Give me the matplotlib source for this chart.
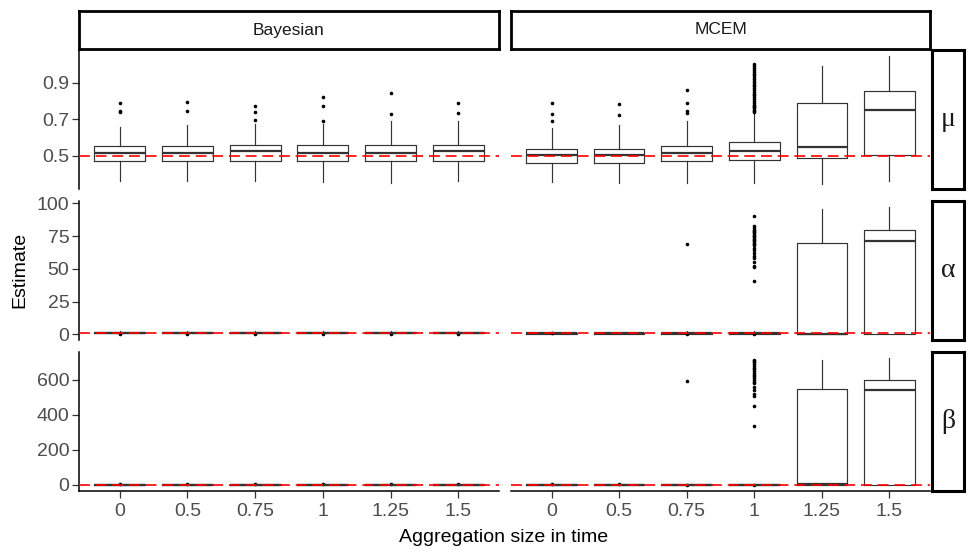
import matplotlib
matplotlib.use("Agg")
import matplotlib.pyplot as plt

plt.rcParams['font.family'] = ['Liberation Sans', 'DejaVu Sans']

# x categories (aggregation size in time)
agg_labels = ["0", "0.5", "0.75", "1", "1.25", "1.5"]
methods = ["Bayesian", "MCEM"]
params = ["\u03bc", "\u03b1", "\u03b2"]
true_vals = [0.5, 1.0, 1.0]

# five-number summaries per box: (whisker low, q1, median, q3, whisker high)
mu_bayes = [(0.363, 0.471, 0.515, 0.551, 0.657), (0.363, 0.471, 0.515, 0.551, 0.667),
            (0.363, 0.471, 0.524, 0.557, 0.674), (0.358, 0.471, 0.515, 0.557, 0.675),
            (0.352, 0.471, 0.515, 0.557, 0.690), (0.363, 0.471, 0.524, 0.557, 0.690)]
mu_bayes_out = [[0.790, 0.743, 0.741], [0.796, 0.743], [0.774, 0.741, 0.696],
                [0.823, 0.774, 0.692], [0.845, 0.730], [0.790, 0.736]]
mu_mcem = [(0.358, 0.458, 0.504, 0.538, 0.650), (0.352, 0.458, 0.504, 0.538, 0.667),
           (0.352, 0.469, 0.516, 0.555, 0.690), (0.352, 0.475, 0.527, 0.573, 0.732),
           (0.347, 0.486, 0.549, 0.787, 0.991), (0.363, 0.502, 0.752, 0.853, 1.046)]
mu_mcem_out = [[0.790, 0.730, 0.692], [0.785, 0.725], [0.860, 0.790, 0.745, 0.735],
               [0.741, 0.745, 0.75, 0.76, 0.765, 0.77, 0.78, 0.79, 0.80, 0.81, 0.82,
                0.83, 0.84, 0.85, 0.86, 0.87, 0.88, 0.89, 0.90, 0.91, 0.92, 0.93,
                0.94, 0.95, 0.96, 0.97, 0.98, 0.99, 1.0], [], []]

alpha_bayes = [(0.2, 0.7, 1.0, 1.4, 2.3)] * 6
alpha_bayes_out = [[0.0], [0.0], [0.0], [0.0], [0.0], [0.0]]
alpha_mcem = [(0.0, 0.4, 0.8, 1.2, 2.0), (0.0, 0.4, 0.8, 1.2, 2.0),
              (0.0, 0.4, 0.8, 1.3, 2.2), (0.0, 0.4, 0.8, 1.3, 2.2),
              (0.0, 0.2, 0.4, 69.4, 95.6), (0.0, 0.3, 71.5, 79.4, 97.2)]
alpha_mcem_out = [[1.0], [], [69.2, 0.5],
                  [90.5, 82.4, 81, 80, 79, 78, 77, 76, 75, 74, 73, 72, 71, 70, 69,
                   68, 66, 64, 62, 60, 58, 55, 52, 51.6, 40.9, 0.5], [], []]

beta_bayes = [(0.3, 0.7, 1.0, 1.5, 2.6)] * 6
beta_bayes_out = [[3.0], [3.0], [3.0], [3.0], [3.0], [3.0]]
beta_mcem = [(0.0, 0.5, 0.9, 1.4, 2.4), (0.0, 0.5, 0.9, 1.4, 2.4),
             (0.0, 0.5, 0.9, 1.5, 2.6), (0.0, 0.5, 0.9, 1.5, 2.6),
             (0.0, 0.5, 4.0, 549, 713), (0.0, 0.5, 539, 600, 725)]
beta_mcem_out = [[3.0], [3.0], [596, 1.0],
                 [713, 705, 700, 690, 680, 670, 660, 650, 640, 630, 620, 610, 600,
                  590, 580, 560, 540, 520, 505, 448, 335, 1.0], [], []]

panel_stats = [[(mu_bayes, mu_bayes_out), (mu_mcem, mu_mcem_out)],
               [(alpha_bayes, alpha_bayes_out), (alpha_mcem, alpha_mcem_out)],
               [(beta_bayes, beta_bayes_out), (beta_mcem, beta_mcem_out)]]
row_ylim = [(0.318, 1.079), (-4.35, 101.8), (-35.8, 759)]
row_ticks = [[0.5, 0.7, 0.9], [0, 25, 50, 75, 100], [0, 200, 400, 600]]
row_ticklabels = [["0.5", "0.7", "0.9"], ["0", "25", "50", "75", "100"],
                  ["0", "200", "400", "600"]]

W, H = 976, 559
fig = plt.figure(figsize=(W / 100, H / 100), dpi=100)


def px_axes(x0, y0, x1, y1):
    return fig.add_axes([x0 / W, 1 - y1 / H, (x1 - x0) / W, (y1 - y0) / H])


col_x = [(79, 499), (511, 930)]
row_y = [(50, 189), (201, 340), (352, 491)]
grey = "#333333"

for r in range(3):
    for c in range(2):
        ax = px_axes(col_x[c][0], row_y[r][0], col_x[c][1], row_y[r][1])
        five, outs = panel_stats[r][c]
        stats = []
        for k in range(len(five)):
            lo, q1, med, q3, hi = five[k]
            stats.append(dict(whislo=lo, q1=q1, med=med, q3=q3, whishi=hi,
                              fliers=outs[k]))
        ax.bxp(stats, positions=range(1, 7), widths=0.75, showcaps=False,
               boxprops=dict(color=grey, linewidth=0.85),
               whiskerprops=dict(color=grey, linewidth=0.85),
               medianprops=dict(color=grey, linewidth=1.6),
               flierprops=dict(marker='o', markerfacecolor='black',
                               markeredgecolor='black', markersize=2.6,
                               markeredgewidth=0))
        ax.axhline(true_vals[r], color='red', linewidth=1.2,
                   linestyle=(0, (6.5, 3.5)), zorder=5)
        ax.set_xlim(0.4, 6.6)
        ax.set_ylim(*row_ylim[r])
        for s in ['top', 'right']:
            ax.spines[s].set_visible(False)
        ax.spines['left'].set_visible(c == 0)
        ax.spines['bottom'].set_visible(r == 2)
        ax.spines['left'].set_linewidth(1.1)
        ax.spines['bottom'].set_linewidth(1.1)
        ax.set_xticks(range(1, 7))
        ax.set_yticks(row_ticks[r])
        ax.tick_params(colors=grey, labelcolor="#4D4D4D", labelsize=14,
                       length=5, width=0.9)
        if c == 0:
            ax.set_yticklabels(row_ticklabels[r])
            ax.tick_params(axis='y', pad=2)
        else:
            ax.tick_params(axis='y', left=False, labelleft=False)
        if r == 2:
            ax.set_xticklabels(agg_labels)
            ax.tick_params(axis='x', pad=4)
        else:
            ax.tick_params(axis='x', bottom=False, labelbottom=False)
        ax.patch.set_alpha(0)

# facet strips
for c in range(2):
    sax = px_axes(col_x[c][0], 11, col_x[c][1], 49)
    sax.set_xticks([])
    sax.set_yticks([])
    for s in sax.spines.values():
        s.set_linewidth(2.0)
    sax.text(0.5, 0.5, methods[c], ha='center', va='center', fontsize=12.5,
             color='#1A1A1A', transform=sax.transAxes)

for r in range(3):
    sax = px_axes(932, row_y[r][0], 964, row_y[r][1])
    sax.set_xticks([])
    sax.set_yticks([])
    for s in sax.spines.values():
        s.set_linewidth(2.2)
    sax.text(0.5, 0.5, params[r], ha='center', va='center', fontsize=20,
             family=['Liberation Serif', 'DejaVu Serif'], color='#1A1A1A',
             transform=sax.transAxes)

fig.text(20 / W, 1 - 270 / H, "Estimate", rotation=90, ha='center', va='center',
         fontsize=14)
fig.text(504 / W, 1 - 538 / H, "Aggregation size in time", ha='center',
         va='center', fontsize=14)

fig.savefig("out.png", dpi=100)
